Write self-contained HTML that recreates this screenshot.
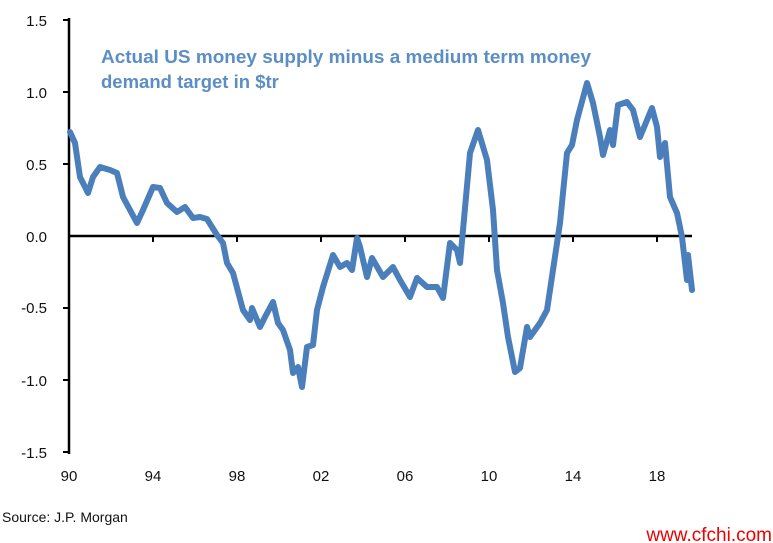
<!DOCTYPE html>
<html><head><style>
body{margin:0;background:#fff;}
svg{display:block;font-family:"Liberation Sans",Arial,sans-serif;}
</style></head><body>
<svg width="773" height="543" viewBox="0 0 773 543">
<rect width="773" height="543" fill="#fff"/>
<g font-size="15" fill="#111" text-anchor="end">
<text x="47" y="26">1.5</text>
<text x="47" y="98">1.0</text>
<text x="47" y="170">0.5</text>
<text x="47" y="242">0.0</text>
<text x="47" y="313">-0.5</text>
<text x="47" y="386">-1.0</text>
<text x="47" y="458">-1.5</text>
</g>
<g stroke="#000" stroke-width="2.5">
<line x1="69" y1="18" x2="69" y2="454"/>
<line x1="68" y1="236" x2="692" y2="236"/>
</g>
<g stroke="#000" stroke-width="2">
<line x1="63" y1="20" x2="69" y2="20"/><line x1="63" y1="92" x2="69" y2="92"/>
<line x1="63" y1="164" x2="69" y2="164"/><line x1="63" y1="308" x2="69" y2="308"/>
<line x1="63" y1="380" x2="69" y2="380"/><line x1="63" y1="452" x2="69" y2="452"/>
<line x1="153" y1="236" x2="153" y2="242"/><line x1="237" y1="236" x2="237" y2="242"/>
<line x1="321" y1="236" x2="321" y2="242"/><line x1="405" y1="236" x2="405" y2="242"/>
<line x1="489" y1="236" x2="489" y2="242"/><line x1="573" y1="236" x2="573" y2="242"/>
<line x1="657" y1="236" x2="657" y2="242"/>
</g>
<g font-size="15" fill="#111" text-anchor="middle">
<text x="69" y="481">90</text><text x="153" y="481">94</text><text x="237" y="481">98</text>
<text x="321" y="481">02</text><text x="405" y="481">06</text><text x="489" y="481">10</text>
<text x="573" y="481">14</text><text x="657" y="481">18</text>
</g>
<polyline fill="none" stroke="#4a7fbc" stroke-width="6" stroke-linejoin="round" stroke-linecap="round" points="70,132 75,143 80,177 88,193 93,177 100,167 110,170 117,173 123,197 137,223 143,210 153,187 160,188 167,203 177,212 185,207 193,218 200,217 207,219 217,235 223,243 227,263 233,273 243,310 250,320 252,308 260,327 265,317 273,302 278,323 283,330 290,350 293,373 298,367 302,387 307,347 313,345 317,310 323,287 333,255 340,267 347,263 352,270 357,238 360,247 367,277 372,258 383,277 393,267 400,280 410,297 417,278 427,287 437,287 443,298 450,243 457,250 460,263 470,153 478,130 487,160 493,210 497,270 503,303 508,337 515,372 520,368 527,327 530,337 540,323 547,310 553,270 560,223 567,153 572,145 577,120 587,83 593,103 600,137 603,155 610,130 613,145 618,105 627,102 633,110 640,137 652,108 657,127 660,157 665,143 670,197 677,213 682,237 687,280 688,255 692,290"/>
<g font-size="18.5" font-weight="bold" fill="#5b8ec5">
<text x="101" y="63" textLength="490" lengthAdjust="spacingAndGlyphs">Actual US money supply minus a medium term money</text>
<text x="101" y="88">demand target in $tr</text>
</g>
<text x="2" y="522" font-size="14" fill="#111">Source: J.P. Morgan</text>
<text x="772" y="541" font-size="19" fill="#e00" text-anchor="end">www.cfchi.com</text>
</svg>
</body></html>
